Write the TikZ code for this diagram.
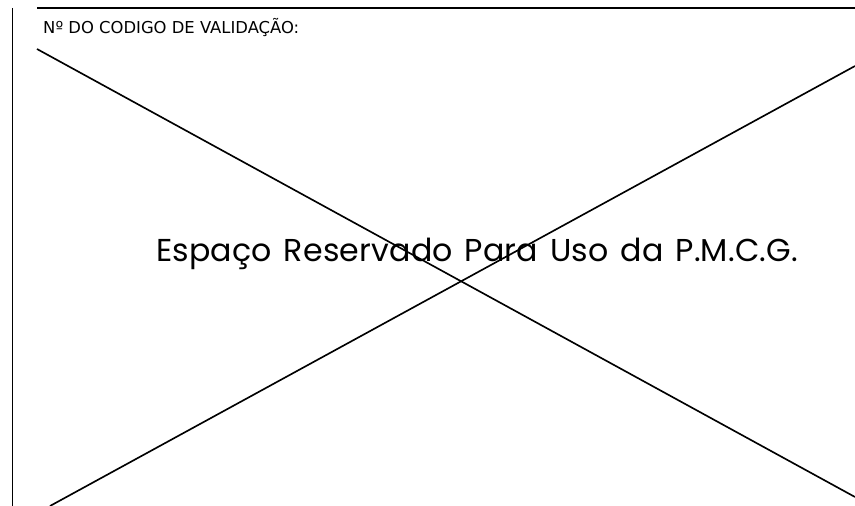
\documentclass[tikz,border=0pt]{standalone}
\usepackage		 {fontspec}
\setmainfont{DejaVu Sans}
\newfontfamily\cadfont[LetterSpace=0.5,WordSpace=1.4]{Poppins}
\usepackage		 {tikz	  }
\usetikzlibrary{calc,positioning}

\begin{document}
\begin{tikzpicture}[x=0.03cm,y=-0.03cm]
  \tikzset{ l/.style={black,line width=1.4pt},
    t/.style={inner sep=0pt,anchor=base west},
  }
  \useasboundingbox (0,0) rectangle (855,506);
  \coordinate (a) at (12.5, 8);
  \coordinate (b) at (12.5, 506);
  \coordinate (c) at (37, 8);
  \coordinate (d) at (855, 8);
  \coordinate (e) at (37, 49);
  \coordinate (f) at (855, 497);
  \coordinate (g) at (50, 506);
  \coordinate (h) at (855, 66);

  % the frame lines
  \draw[l,line width=1.6pt] (a) -- (b);
  \draw[l,line width=1.8pt] (c) -- (d);

  \node[t,font=\fontsize{14}{17}\selectfont] (cod) at (43, 34) {Nº DO CODIGO DE VALIDAÇÃO:};

  % the cross
  \draw[l] (e) -- (f);
  \draw[l] (g) -- (h);

  \node[t,font=\cadfont\fontsize{27}{32}\selectfont] (pmcg) at (156, 261) {Espaço Reservado Para Uso da P.M.C.G.};
\end{tikzpicture}
\end{document}
